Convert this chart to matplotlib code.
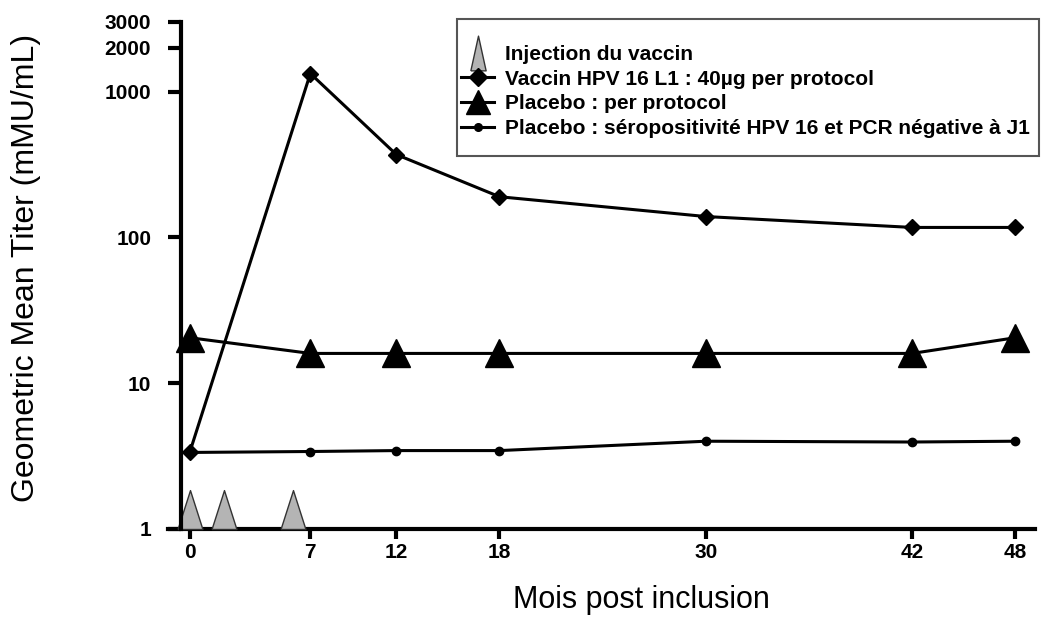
import matplotlib
matplotlib.use("Agg")
import matplotlib.pyplot as plt
from matplotlib.lines import Line2D
from matplotlib.patches import Rectangle
import numpy as np

plt.rcParams['font.family'] = ['Liberation Sans', 'DejaVu Sans']

# ---- data ----
months = [0, 7, 12, 18, 30, 42, 48]
vaccin = [3.4, 1330, 370, 190, 139, 117, 117]
placebo_pp = [20.5, 16, 16, 16, 16, 16, 20.5]
placebo_sero = [3.35, 3.4, 3.45, 3.45, 4.0, 3.95, 4.0]
injection_months = [0, 2, 6]
injection_level = [1, 1, 1]

xticks = [0, 7, 12, 18, 30, 42, 48]
yticks = [1, 10, 100, 1000, 2000, 3000]
ytick_labels = ['1', '10', '100', '1000', '2000', '3000']

labels = ['Injection du vaccin',
          'Vaccin HPV 16 L1 : 40\u00b5g per protocol',
          'Placebo : per protocol',
          'Placebo : s\u00e9ropositivit\u00e9 HPV 16 et PCR n\u00e9gative \u00e0 J1']

W, H = 1043, 624
fig = plt.figure(figsize=(W / 100, H / 100), dpi=100)
ax = fig.add_axes([168 / W, 1 - 529 / H, 867 / W, 507 / H])

ax.set_yscale('log')
ax.set_ylim(1, 3000)
ax.set_xlim(-1.28, 49.15)

lw = 2.2
ax.plot(months, vaccin, color='black', lw=lw, marker='D', ms=8.5, zorder=4)
ax.plot(months, placebo_pp, color='black', lw=lw, marker='^', ms=20, zorder=4)
ax.plot(months, placebo_sero, color='black', lw=lw, marker='o', ms=6, zorder=4)

# injection triangles sitting on the x axis
base_tri = np.array([[-0.32, 0], [0.32, 0], [0, 1], [-0.32, 0]])
ax.scatter(injection_months, injection_level, marker=base_tri, s=56 ** 2,
           facecolor='#b4b4b4', edgecolor='#333333', linewidths=1.0,
           zorder=3, clip_on=False)

# spines
for s in ['top', 'right']:
    ax.spines[s].set_visible(False)
ax.spines['left'].set_position(('data', -0.52))
ax.spines['left'].set_linewidth(3)
ax.spines['bottom'].set_linewidth(3)
ax.spines['left'].set_zorder(5)

ax.set_xticks(xticks)
ax.set_xticklabels([str(t) for t in xticks])
ax.set_yticks(yticks)
ax.set_yticklabels(ytick_labels)
ax.yaxis.set_minor_locator(matplotlib.ticker.NullLocator())
ax.tick_params(axis='x', which='major', width=3, length=7, labelsize=15,
               pad=3)
ax.tick_params(axis='y', which='major', width=3, length=9.5, labelsize=15,
               pad=12)
for t in ax.get_xticklabels() + ax.get_yticklabels():
    t.set_fontweight('bold')

fig.text(641 / W, 1 - 600 / H, 'Mois post inclusion', fontsize=22,
         ha='center', va='center')
fig.text(26 / W, 1 - 268 / H, 'Geometric Mean Titer (mMU/mL)', fontsize=23,
         ha='center', va='center', rotation=90)

# legend box
fig.patches.append(Rectangle((457 / W, 1 - 156 / H), (1039 - 457) / W,
                             (156 - 19) / H, transform=fig.transFigure,
                             facecolor='white', edgecolor='#555555',
                             linewidth=1.5, zorder=1))

# legend
leg_tri = np.array([[-0.22, -0.5], [0.22, -0.5], [0, 0.5], [-0.22, -0.5]])
handles = [
    Line2D([], [], linestyle='none', marker=leg_tri, ms=25,
           markerfacecolor='#b4b4b4', markeredgecolor='#333333', mew=1.0),
    Line2D([], [], color='black', lw=lw, marker='D', ms=9),
    Line2D([], [], color='black', lw=lw, marker='^', ms=17),
    Line2D([], [], color='black', lw=lw, marker='o', ms=5.5),
]
leg = fig.legend(handles, labels, loc='upper left',
                 bbox_to_anchor=(461 / W, 1 - 45 / H),
                 frameon=False, handlelength=1.6,
                 handletextpad=0.5, borderpad=0, labelspacing=0.27,
                 borderaxespad=0,
                 prop={'weight': 'bold', 'size': 15})
leg.set_zorder(2)

fig.savefig('out.png', dpi=100)
